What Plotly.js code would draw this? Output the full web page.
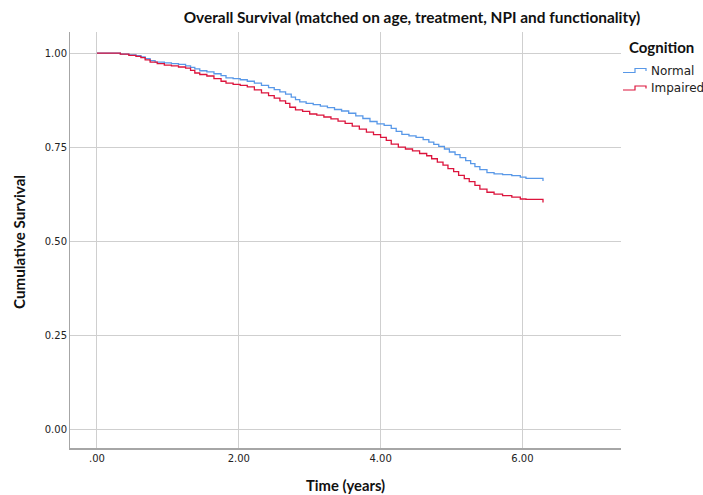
<!DOCTYPE html>
<html>
<head>
<meta charset="utf-8">
<script src="https://cdn.plot.ly/plotly-3.0.1.min.js"></script>
<style>html,body{margin:0;padding:0;background:#fff;}#chart{width:703px;height:495px;}</style>
</head>
<body>
<div id="chart"></div>
<script>
// ---- Data (Kaplan-Meier step curves) ----
const normalTime = [0,0.25,0.33,0.45,0.55,0.62,0.68,0.75,0.82,0.95,1.05,1.15,1.25,1.32,1.38,1.45,1.55,1.65,1.75,1.82,1.92,2.02,2.12,2.22,2.32,2.42,2.50,2.58,2.66,2.74,2.80,2.86,2.95,3.05,3.15,3.25,3.35,3.45,3.55,3.65,3.75,3.85,3.95,4.05,4.15,4.22,4.30,4.40,4.50,4.60,4.68,4.75,4.82,4.90,4.97,5.05,5.12,5.20,5.27,5.33,5.40,5.50,5.60,5.72,5.85,5.97,6.05,6.28,6.29];
const normalSurv = [1.000,1.000,0.997,0.995,0.993,0.990,0.985,0.980,0.976,0.974,0.972,0.970,0.966,0.962,0.958,0.953,0.950,0.945,0.940,0.934,0.932,0.929,0.925,0.920,0.914,0.908,0.903,0.897,0.891,0.883,0.876,0.870,0.866,0.863,0.859,0.855,0.850,0.846,0.840,0.833,0.826,0.818,0.812,0.808,0.800,0.792,0.784,0.780,0.776,0.770,0.763,0.757,0.752,0.745,0.737,0.730,0.722,0.714,0.706,0.698,0.690,0.682,0.679,0.677,0.674,0.670,0.667,0.667,0.660];
const impairedTime = [0,0.25,0.33,0.45,0.55,0.62,0.68,0.75,0.85,0.95,1.05,1.15,1.25,1.32,1.38,1.45,1.55,1.65,1.75,1.82,1.92,2.02,2.12,2.22,2.32,2.42,2.50,2.58,2.66,2.72,2.80,2.90,3.00,3.10,3.20,3.30,3.40,3.50,3.60,3.70,3.80,3.90,4.00,4.08,4.15,4.25,4.35,4.45,4.55,4.65,4.72,4.80,4.88,4.95,5.03,5.10,5.18,5.25,5.33,5.40,5.50,5.60,5.72,5.85,5.97,6.05,6.28,6.29];
const impairedSurv = [1.000,1.000,0.997,0.994,0.991,0.988,0.982,0.976,0.972,0.968,0.966,0.963,0.960,0.954,0.947,0.943,0.939,0.932,0.925,0.920,0.917,0.914,0.910,0.902,0.894,0.887,0.880,0.873,0.866,0.856,0.849,0.845,0.838,0.835,0.830,0.825,0.819,0.813,0.806,0.798,0.790,0.783,0.776,0.768,0.758,0.750,0.745,0.740,0.733,0.727,0.719,0.710,0.702,0.693,0.685,0.675,0.666,0.658,0.648,0.638,0.630,0.625,0.621,0.617,0.612,0.611,0.611,0.603];
const seriesNames = ["Normal","Impaired"];
const xTickVals = [0,2,4,6];
const xTickText = [".00","2.00","4.00","6.00"];
const yTickVals = [0,0.25,0.5,0.75,1.0];
const yTickText = ["0.00","0.25","0.50","0.75","1.00"];

const BLUE = "rgb(88,152,232)";
const RED = "rgb(220,20,60)";
const titleFont = "Lato, 'Open Sans', sans-serif";
const tickFont = "'DejaVu Sans', sans-serif";

const traces = [
  {x: normalTime, y: normalSurv, name: seriesNames[0], type: "scatter", mode: "lines",
   line: {shape: "hv", color: BLUE, width: 1.3}, showlegend: false},
  {x: impairedTime, y: impairedSurv, name: seriesNames[1], type: "scatter", mode: "lines",
   line: {shape: "hv", color: RED, width: 1.3}, showlegend: false}
];

// pixel -> paper helpers for the hand-drawn legend
const L = 70, R = 82, T = 32, B = 47, W = 703, H = 495;
const pw = W - L - R, ph = H - T - B;
const px = v => (v - L) / pw;
const py = v => (H - B - v) / ph;

function stepPath(x0, yLow, yHigh, x1, x2) {
  return `M ${px(x0)} ${py(yLow)} L ${px(x1)} ${py(yLow)} L ${px(x1)} ${py(yHigh)} L ${px(x2)} ${py(yHigh)} L ${px(x2)} ${py(yLow - 1.5)}`;
}

const layout = {
  width: W, height: H,
  margin: {l: L, r: R, t: T, b: B},
  paper_bgcolor: "#fff", plot_bgcolor: "#fff",
  title: {text: "<b>Overall Survival (matched on age, treatment, NPI and functionality)</b>",
          font: {family: titleFont, size: 15.4, color: "#111"},
          x: 412 / W, xanchor: "center", xref: "container",
          y: 1 - 18 / H, yanchor: "middle", yref: "container"},
  xaxis: {range: [-0.38, 7.39], tickvals: xTickVals, ticktext: xTickText,
          showgrid: true, gridcolor: "#cfcfcf", gridwidth: 1,
          zeroline: false, showline: true, linecolor: "#a6a6a6", linewidth: 1.5,
          ticks: "", tickfont: {family: tickFont, size: 10, color: "#222"}, fixedrange: true},
  yaxis: {range: [-0.05, 1.056], tickvals: yTickVals, ticktext: yTickText,
          showgrid: true, gridcolor: "#cfcfcf", gridwidth: 1,
          zeroline: false, showline: true, linecolor: "#a6a6a6", linewidth: 1,
          ticks: "", tickfont: {family: tickFont, size: 10, color: "#222"}, fixedrange: true},
  showlegend: false,
  annotations: [
    {text: "<b>Time (years)</b>", xref: "paper", yref: "paper", x: px(345), y: py(484.5),
     xanchor: "center", yanchor: "middle", showarrow: false,
     font: {family: titleFont, size: 14.8, color: "#111"}},
    {text: "<b>Cumulative Survival</b>", xref: "paper", yref: "paper", x: px(19), y: py(242),
     xanchor: "center", yanchor: "middle", showarrow: false, textangle: -90,
     font: {family: titleFont, size: 15.2, color: "#111"}},
    {text: "<b>Cognition</b>", xref: "paper", yref: "paper", x: px(627), y: py(47),
     xanchor: "left", yanchor: "middle", showarrow: false,
     font: {family: titleFont, size: 15, color: "#111"}},
    {text: seriesNames[0], xref: "paper", yref: "paper", x: px(649), y: py(71),
     xanchor: "left", yanchor: "middle", showarrow: false,
     font: {family: tickFont, size: 12, color: "#222"}},
    {text: seriesNames[1], xref: "paper", yref: "paper", x: px(649), y: py(87.5),
     xanchor: "left", yanchor: "middle", showarrow: false,
     font: {family: tickFont, size: 12, color: "#222"}}
  ],
  shapes: [
    {type: "path", xref: "paper", yref: "paper", path: stepPath(623, 72.5, 68.5, 635, 646),
     line: {color: BLUE, width: 1.2}},
    {type: "path", xref: "paper", yref: "paper", path: stepPath(623, 90, 86, 635, 646),
     line: {color: RED, width: 1.2}}
  ]
};

Plotly.newPlot("chart", traces, layout, {displayModeBar: false, staticPlot: true});
</script>
</body>
</html>
